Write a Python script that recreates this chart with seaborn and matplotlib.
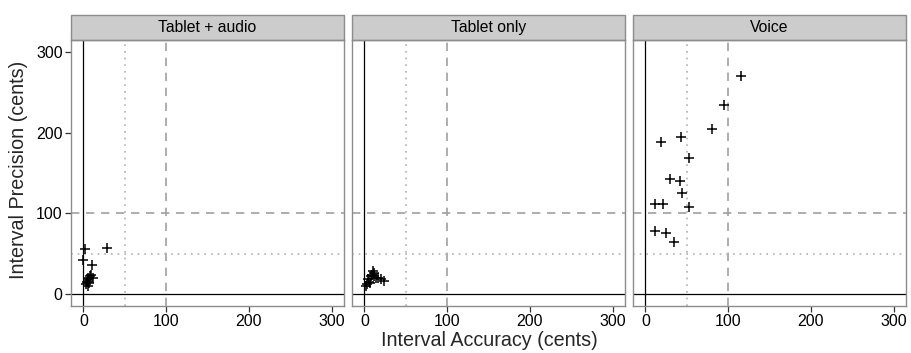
import matplotlib
matplotlib.use("Agg")
import matplotlib.pyplot as plt
import seaborn as sns
import pandas as pd
from matplotlib.patches import Rectangle

sns.set_style("white")
plt.rcParams['font.family'] = ['Liberation Sans', 'DejaVu Sans']

panels = ["Tablet + audio", "Tablet only", "Voice"]

tab_audio_acc = [2, 28, 0, 10, 8, 5, 6, 4, 7, 3, 9, 5, 11, 6]
tab_audio_prec = [56, 57, 42, 36, 22, 20, 18, 15, 14, 12, 24, 10, 20, 16]

tab_only_acc = [10, 12, 9, 8, 14, 4, 20, 24, 6, 3, 2, 11, 7, 16]
tab_only_prec = [29, 26, 24, 22, 20, 18, 18, 16, 15, 12, 10, 22, 14, 20]

voice_acc = [116, 95, 80, 43, 19, 53, 30, 42, 44, 12, 21, 53, 11, 25, 34]
voice_prec = [270, 234, 205, 195, 188, 168, 142, 140, 125, 111, 111, 108, 78, 76, 65]

ticks = [0, 100, 200, 300]

df = pd.concat([
    pd.DataFrame({"acc": tab_audio_acc, "prec": tab_audio_prec, "cond": panels[0]}),
    pd.DataFrame({"acc": tab_only_acc, "prec": tab_only_prec, "cond": panels[1]}),
    pd.DataFrame({"acc": voice_acc, "prec": voice_prec, "cond": panels[2]}),
])

fig = plt.figure(figsize=(9.11, 3.53), dpi=100)
W, H = 911, 353
lefts = [71, 352, 633]
pw = 273
top, bottom = 40, 306
strip_h = 25
border_col = "#8c8c8c"

for i, (name, lx) in enumerate(zip(panels, lefts)):
    ax = fig.add_axes([lx / W, 1 - bottom / H, pw / W, (bottom - top) / H])
    sub = df[df["cond"] == name]
    ax.axvline(0, color="black", lw=0.9, zorder=1)
    ax.axhline(0, color="black", lw=0.9, zorder=1)
    ax.axvline(100, color="#a0a0a0", lw=1.2, ls=(0, (5, 4)), zorder=1)
    ax.axhline(100, color="#a0a0a0", lw=1.2, ls=(0, (5, 4)), zorder=1)
    ax.axvline(50, color="#b0b0b0", lw=1.2, ls=(0, (1, 3)), zorder=1)
    ax.axhline(50, color="#b0b0b0", lw=1.2, ls=(0, (1, 3)), zorder=1)
    sns.scatterplot(data=sub, x="acc", y="prec", marker="+", color="black",
                    s=55, linewidth=1.1, ax=ax, zorder=3, legend=False)
    ax.set_xlim(-15, 315)
    ax.set_ylim(-15, 315)
    ax.set_xticks(ticks)
    ax.set_yticks(ticks)
    ax.set_xlabel("")
    ax.set_ylabel("")
    for sp in ax.spines.values():
        sp.set_color(border_col)
        sp.set_linewidth(1.0)
    ax.tick_params(axis="both", direction="out", length=4, width=0.9,
                   color="#333333", labelsize=11.5, labelcolor="black", pad=2,
                   bottom=True, left=(i == 0))
    if i != 0:
        ax.set_yticklabels([])
    # strip
    r = Rectangle((0, 1.0), 1, strip_h / (bottom - top), transform=ax.transAxes,
                  facecolor="#cccccc", edgecolor=border_col, lw=1.0, clip_on=False)
    ax.add_patch(r)
    ax.text(0.5, 1.0 + strip_h / (bottom - top) / 2, name, transform=ax.transAxes,
            ha="center", va="center", fontsize=11.3, color="black")

fig.text((352 + 137) / W, 1 - 341 / H, "Interval Accuracy (cents)", ha="center",
         va="center", fontsize=14.2)
fig.text(19 / W, 1 - 170 / H, "Interval Precision (cents)",
         rotation=90, ha="center", va="center", fontsize=14.2)

fig.savefig("out.png", dpi=100)
